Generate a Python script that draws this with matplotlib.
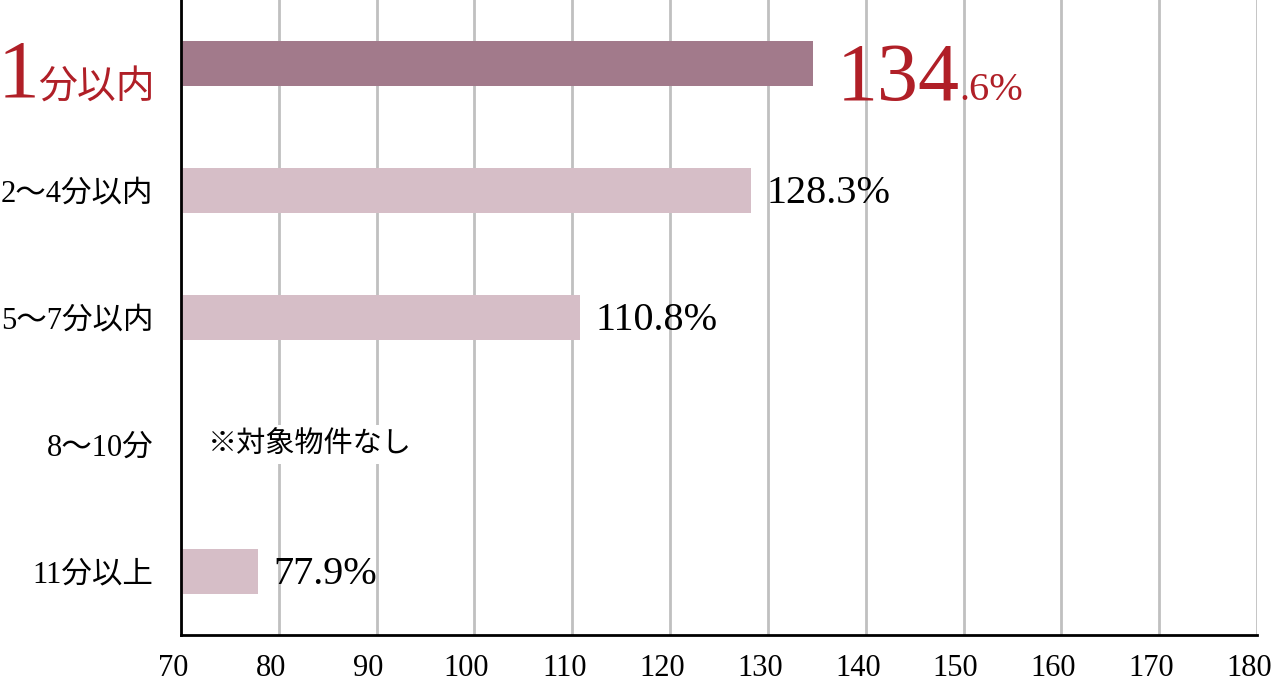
import matplotlib
matplotlib.use('Agg')
import matplotlib.pyplot as plt
from matplotlib.transforms import ScaledTranslation

categories = ['1分以内', '2〜4分以内', '5〜7分以内', '8〜10分', '11分以上']
values = [134.6, 128.3, 110.8, None, 77.9]
value_labels = ['134.6%', '128.3%', '110.8%', '', '77.9%']
no_data_note = '※対象物件なし'
xticks = [70, 80, 90, 100, 110, 120, 130, 140, 150, 160, 170, 180]

FONTS = ['Liberation Serif', 'Noto Sans CJK JP', 'DejaVu Sans']
plt.rcParams['font.family'] = FONTS

RED = '#b01f27'
DARK = '#a27a8b'
LIGHT = '#d6bec7'
GRID = '#c0c0c0'

fig = plt.figure(figsize=(12.72, 6.82), dpi=100)
ax = fig.add_axes([181 / 1272, 47 / 682, 1076 / 1272, 635 / 682])

ypos = list(range(len(categories)))
for i, v in enumerate(values):
    if v is None:
        continue
    ax.barh(i, v - 70, left=70, height=0.35, color=DARK if i == 0 else LIGHT, zorder=2)

ax.set_xlim(70, 180)
ax.set_ylim(4.5, -0.5)
ax.set_xticks(xticks)
ax.set_xticklabels([str(t) for t in xticks], fontsize=22)
ax.tick_params(axis='x', length=0, pad=14)
# tick labels sit slightly left of the gridlines in the reference
shift = ScaledTranslation(-8 / 100, 0, fig.dpi_scale_trans)
for lab in ax.get_xticklabels():
    lab.set_transform(lab.get_transform() + shift)
ax.set_yticks(ypos)
ax.set_yticklabels([''] + categories[1:], fontsize=22)
ax.tick_params(axis='y', length=0, pad=20)
ax.grid(axis='x', color=GRID, linewidth=2, zorder=0)
for s in ['top', 'right']:
    ax.spines[s].set_visible(False)
for s in ['left', 'bottom']:
    ax.spines[s].set_linewidth(2)
    ax.spines[s].set_color('black')
    ax.spines[s].set_zorder(3)

# highlighted first category label
t_cat = ax.annotate(categories[0][1:], xy=(0, 0), xycoords=ax.get_yaxis_transform(),
                    xytext=(-19, -25), textcoords='offset points',
                    ha='right', va='baseline', fontsize=28, color=RED)
ax.annotate(categories[0][0], xy=(0, 0), xycoords=t_cat, xytext=(1, -5),
            textcoords='offset points', ha='right', va='bottom', fontsize=60, color=RED)

# value labels
for i, v in enumerate(values):
    if v is None:
        continue
    if i == 0:
        big = value_labels[i][:3]
        small = value_labels[i][3:]
        t_big = ax.annotate(big, xy=(v, i), xytext=(17, -26), textcoords='offset points',
                            ha='left', va='baseline', fontsize=59, color=RED)
        ax.annotate(small, xy=(1, 0), xycoords=t_big, xytext=(0, 6),
                    textcoords='offset points', ha='left', va='bottom',
                    fontsize=29, color=RED)
    else:
        ax.annotate(value_labels[i], xy=(v, i), xytext=(11, -2), textcoords='offset points',
                    ha='left', va='center', fontsize=29, color='black')

ax.text(72.7, 3, no_data_note, ha='left', va='center', fontsize=21, color='black',
        bbox=dict(facecolor='white', edgecolor='none', pad=4), zorder=4)

fig.savefig('out.png', dpi=100)
